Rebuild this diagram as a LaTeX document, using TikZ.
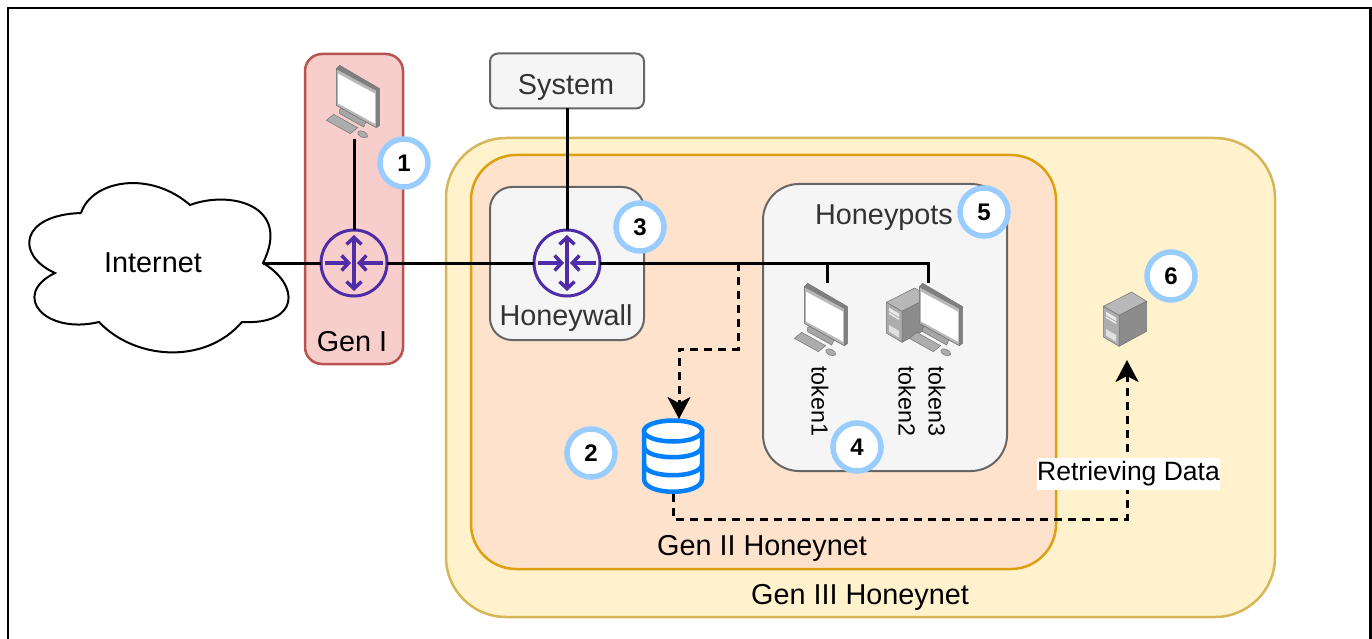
\documentclass[tikz,border=0pt]{standalone}
\usepackage{fontspec}
\setmainfont{Liberation Sans}
\usetikzlibrary{shapes.geometric, arrows.meta}
\definecolor{genoneFill}{HTML}{F8CECC}
\definecolor{genoneLine}{HTML}{B85450}
\definecolor{gentwoFill}{HTML}{FFE2CC}
\definecolor{gentwoLine}{HTML}{DDA010}
\definecolor{genthreeFill}{HTML}{FFF2CC}
\definecolor{genthreeLine}{HTML}{D6B656}
\definecolor{greyFill}{HTML}{F5F5F5}
\definecolor{greyLine}{HTML}{666666}
\definecolor{routerLine}{HTML}{4F2CA8}
\definecolor{badgeLine}{HTML}{99CCFF}
\definecolor{dbLine}{HTML}{007FFF}
\tikzstyle{base} = [inner sep=0pt, outer sep=0pt]
\tikzstyle{label} = [base, font=\fontsize{28.8pt}{32pt}\selectfont]
\tikzstyle{greylabel} = [label, text=black!80]
\tikzstyle{genone} = [base, rectangle, draw=genoneLine, fill=genoneFill, line width=2.5pt, rounded corners=17pt, minimum width=98pt, minimum height=310pt]
\tikzstyle{gentwo} = [base, rectangle, draw=gentwoLine, fill=gentwoFill, line width=2.5pt, rounded corners=45pt, minimum width=585pt, minimum height=414pt]
\tikzstyle{genthree} = [base, rectangle, draw=genthreeLine, fill=genthreeFill, line width=2.5pt, rounded corners=60pt, minimum width=829pt, minimum height=479pt]
\tikzstyle{greybox} = [base, rectangle, draw=greyLine, fill=greyFill, line width=2pt]
\tikzstyle{router} = [base, circle, draw=routerLine, line width=3pt, minimum size=66pt]
\tikzstyle{badge} = [base, circle, draw=badgeLine, fill=white, line width=5.5pt, minimum size=48pt, font=\fontsize{24pt}{26pt}\selectfont\bfseries]
\tikzstyle{icon} = [base, minimum width=54pt, minimum height=74pt]
\tikzstyle{token} = [base, rotate=-90, font=\fontsize{23.3pt}{26pt}\selectfont]
\tikzstyle{wire} = [line width=3pt]
\tikzstyle{dashwire} = [line width=3pt, dash pattern=on 8pt off 6pt, -{Stealth[length=22pt, width=23pt, inset=6pt]}]
\tikzset{
	pics/routerglyph/.style={code={
		\draw [routerLine, line width=3.5pt, {Straight Barb[length=7pt, width=15pt]}-{Straight Barb[length=7pt, width=15pt]}] (0,-28) -- (0,28);
		\draw [routerLine, line width=3.5pt, -{Straight Barb[length=7pt, width=15pt]}] (-29,0) -- (-3,0);
		\draw [routerLine, line width=3.5pt, -{Straight Barb[length=7pt, width=15pt]}] (29,0) -- (3,0);
	}},
	pics/monitor/.style={code={
		\begin{scope}[scale=0.3333, shift={(-158,-185)}, draw=black!55, line width=0.5pt]
		\filldraw [fill=black!35] (118,208) -- (128,200) -- (198,242) -- (190,260) -- (118,220) -- cycle;
		\filldraw [fill=black!50] (108,85) -- (118,75) -- (238,145) -- (238,255) -- (228,262) -- (108,195) -- cycle;
		\filldraw [fill=black!28] (108,85) -- (228,150) -- (228,262) -- (108,195) -- cycle;
		\fill [white] (113,100) -- (224,160) -- (224,250) -- (113,189) -- cycle;
		\filldraw [fill=black!32] (78,240) -- (100,222) -- (172,262) -- (150,280) -- cycle;
		\filldraw [fill=black!32] (187,282) ellipse [x radius=16, y radius=9, rotate=-25];
		\end{scope}
	}},
	pics/server/.style={code={
		\begin{scope}[scale=0.3333, draw=black!55, line width=0.5pt]
		\filldraw [fill=black!28] (-65,-38) -- (20,-81) -- (65,-53) -- (-18,-11) -- cycle;
		\filldraw [fill=black!45] (-18,-11) -- (65,-53) -- (65,37) -- (-18,82) -- cycle;
		\filldraw [fill=black!32] (-65,-38) -- (-18,-11) -- (-18,82) -- (-65,54) -- cycle;
		\fill [black!8] (-57,-22) -- (-27,-4) -- (-27,6) -- (-57,-12) -- cycle;
		\fill [black!8] (-57,-8) -- (-27,10) -- (-27,15) -- (-57,-3) -- cycle;
		\fill [black!12] (-57,30) -- (-27,48) -- (-27,68) -- (-57,50) -- cycle;
		\end{scope}
	}},
	pics/dbglyph/.style={code={
		\filldraw [draw=dbLine, fill=white, line width=4.5pt] (-29,-25) -- (-29,23) .. controls (-29,40) and (29,40) .. (29,23) -- (29,-25) -- cycle;
		\draw [dbLine, line width=4.5pt] (-29,-10) .. controls (-29,5) and (29,5) .. (29,-10);
		\draw [dbLine, line width=4.5pt] (-29,8) .. controls (-29,23) and (29,23) .. (29,8);
		\filldraw [draw=dbLine, fill=white, line width=4.5pt] (0,-25) ellipse [x radius=29, y radius=10.5];
	}}
}

\begin{document}
\begin{tikzpicture}[x=1pt, y=-1pt, node distance=100pt]
\useasboundingbox (0,0) rectangle (1372,639);

\draw [line width=2.5pt] (8,639) -- (8,8) -- (1370.5,8) -- (1370.5,639);

\node (gen3)		[genthree] at (860.5,377.5) {};
\node (gen2)		[gentwo] at (763.5,362) {};
\node (gen1)		[genone] at (354,209) {};
\node (wallbox)		[greybox, rounded corners=22pt, minimum width=154pt, minimum height=153pt] at (567,263.5) {};
\node (potbox)		[greybox, rounded corners=36pt, minimum width=244pt, minimum height=287pt] at (885,327.5) {};
\node (system)		[greybox, rounded corners=8pt, minimum width=154pt, minimum height=55pt] at (567,81) {};

\draw [fill=white, line width=2pt] (81,213)
	.. controls (92,180) and (150,170) .. (190,205)
	.. controls (230,190) and (292,205) .. (263,263)
	.. controls (300,285) and (300,325) .. (242,322)
	.. controls (205,365) and (135,360) .. (99,322)
	.. controls (45,335) and (10,295) .. (55,273)
	.. controls (15,255) and (20,215) .. (81,213);
\coordinate (cloudport) at (263,263);
\node (internet)	[label] at (153,263) {Internet};

\node (router1)		[router] at (354,263) {};
\node (router2)		[router, right of=router1, xshift=113pt] {};
\pic at (router1) {routerglyph};
\pic at (router2) {routerglyph};

\node (pc1)			[icon] at (353,102) {};
\node (pc2)			[icon] at (821,320) {};
\node (pc3)			[icon, right of=pc2, xshift=15pt] {};
\node (tower2)		[base, minimum width=43pt, minimum height=54pt] at (908,315) {};
\node (tower3)		[base, minimum width=43pt, minimum height=54pt] at (1125,319) {};
\node (store)		[base, minimum width=62pt, minimum height=76pt] at (673,456) {};

\pic at (pc1) {monitor};
\pic at (pc2) {monitor};
\pic at (tower2) {server};
\pic at (pc3) {monitor};
\pic at (tower3) {server};
\pic at (store) {dbglyph};

\coordinate (tap1) at (827,263);
\coordinate (tap2) at (928,263);
\coordinate (tap3) at (738,263);

\draw [wire] (cloudport) -- (router1.west);
\draw [wire] (router1.east) -- (router2.west);
\draw [wire] (router2.east) -- (tap2) -- (pc3.north -| tap2);
\draw [wire] (tap1) -- (pc2.north -| tap1);
\draw [wire] (pc1.south -| router1) -- (router1.north);
\draw [wire] (system.south) -- (router2.north);

\draw [dashwire] (tap3) -- (738,349) -- (679,349) -- (679,419);
\draw [dashwire] (store.south) -- (673,519) -- (1127,519) -- (1127,360);

\node (retrieve)	[base, fill=white, minimum width=183pt, minimum height=32pt, font=\fontsize{26.5pt}{28pt}\selectfont] at (1128.5,474) {Retrieving Data};

\node (syslabel)	[greylabel] at (566,87) {System};
\node (gen1label)	[label] at (352,342) {Gen I};
\node (wall)		[greylabel] at (566,318) {Honeywall};
\node (pots)		[greylabel] at (884,218) {Honeypots};
\node (gen2label)	[label] at (762,548) {Gen II Honeynet};
\node (gen3label)	[label] at (860,597) {Gen III Honeynet};

\node (token1)		[token] at (820,401) {token1};
\node (token2)		[token] at (907,401) {token2};
\node (token3)		[token] at (937,401) {token3};

\node (badge1)		[badge] at (404,163) {1};
\node (badge2)		[badge] at (591,453) {2};
\node (badge3)		[badge] at (640,227) {3};
\node (badge4)		[badge] at (857,447) {4};
\node (badge5)		[badge] at (984,212) {5};
\node (badge6)		[badge] at (1171,276) {6};

\end{tikzpicture}
\end{document}
